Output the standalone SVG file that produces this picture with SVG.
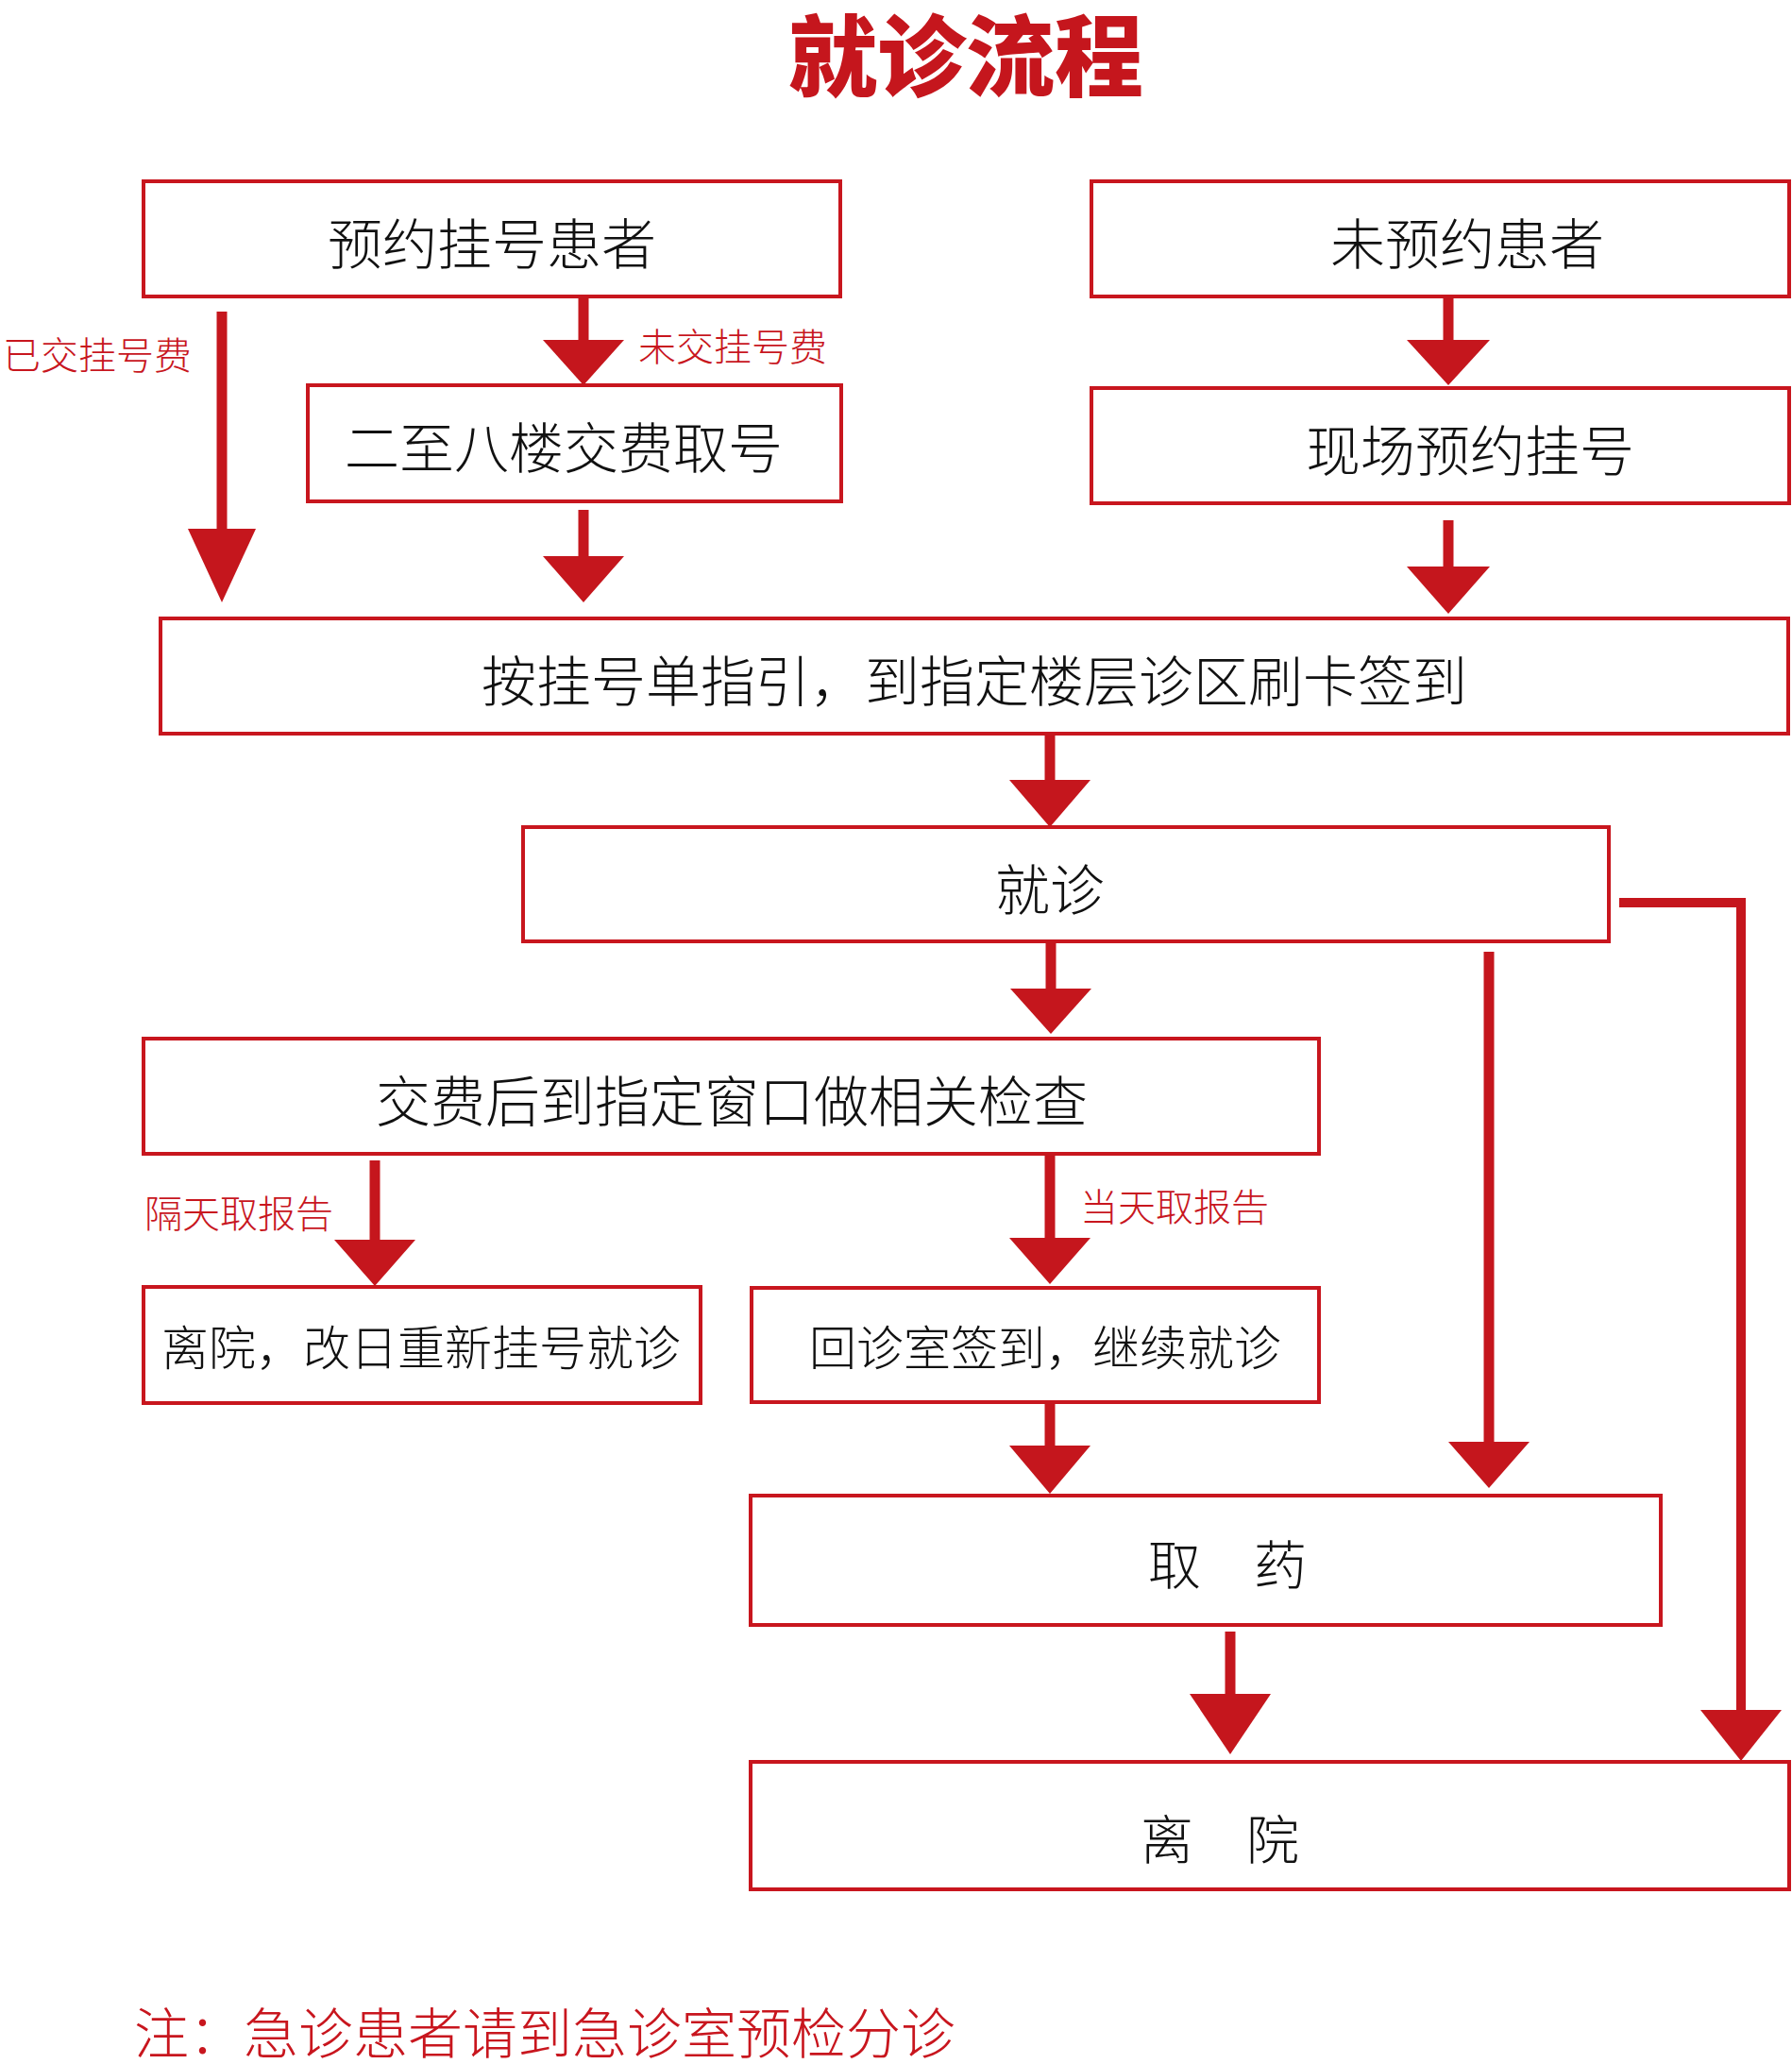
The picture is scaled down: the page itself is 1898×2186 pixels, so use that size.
<svg xmlns="http://www.w3.org/2000/svg" width="1898" height="2186" viewBox="0 0 1898 2186">
<style>
.box{fill:#fff;stroke:#c8161e;stroke-width:4}
.t{font-family:"Noto Sans CJK SC","Noto Sans",sans-serif;font-weight:300;fill:#111;text-anchor:middle;dominant-baseline:central}
.lbl{font-family:"Noto Sans CJK SC","Noto Sans",sans-serif;font-weight:300;fill:#c8161e;font-size:40px;dominant-baseline:central}
.sh{stroke:#c5161d;stroke-width:11;fill:none}
.hd{fill:#c5161d}
</style>
<rect width="1898" height="2186" fill="#fff"/>
<text x="1023" y="54" class="t" style="fill:#c5161d;font-weight:900;font-size:94px">就诊流程</text>

<g id="n1"><rect class="box" x="152" y="192" width="738" height="122"/><text class="t" x="521" y="255" font-size="58">预约挂号患者</text></g>
<g id="n2"><rect class="box" x="1156" y="192" width="739" height="122"/><text class="t" x="1554" y="255" font-size="58">未预约患者</text></g>
<g id="n3"><rect class="box" x="326" y="408" width="565" height="123"/><text class="t" x="597" y="471" font-size="58">二至八楼交费取号</text></g>
<g id="n4"><rect class="box" x="1156" y="411" width="739" height="122"/><text class="t" x="1557" y="474" font-size="58">现场预约挂号</text></g>
<g id="n5"><rect class="box" x="170" y="655" width="1724" height="122"/><text class="t" x="1032" y="718" font-size="58">按挂号单指引，到指定楼层诊区刷卡签到</text></g>
<g id="n6"><rect class="box" x="554" y="876" width="1150" height="121"/><text class="t" x="1112" y="939" font-size="58">就诊</text></g>
<g id="n7"><rect class="box" x="152" y="1100" width="1245" height="122"/><text class="t" x="775" y="1163" font-size="58">交费后到指定窗口做相关检查</text></g>
<g id="n8"><rect class="box" x="152" y="1363" width="590" height="123"/><text class="t" x="446" y="1424" font-size="50">离院，改日重新挂号就诊</text></g>
<g id="n9"><rect class="box" x="796" y="1364" width="601" height="121"/><text class="t" x="1107" y="1424" font-size="50">回诊室签到，继续就诊</text></g>
<g id="n10"><rect class="box" x="795" y="1584" width="964" height="137"/><text class="t" x="1300" y="1653" font-size="56">取　药</text></g>
<g id="n11"><rect class="box" x="795" y="1866" width="1100" height="135"/><text class="t" x="1292" y="1944" font-size="56">离　院</text></g>

<g id="connectors">
<line class="sh" x1="235" y1="330" x2="235" y2="562"/><polygon class="hd" points="199,560 271,560 235,638"/>
<line class="sh" x1="618" y1="315" x2="618" y2="362"/><polygon class="hd" points="575,360 661,360 618,408"/>
<line class="sh" x1="618" y1="540" x2="618" y2="591"/><polygon class="hd" points="575,589 661,589 618,638"/>
<line class="sh" x1="1534" y1="314" x2="1534" y2="362"/><polygon class="hd" points="1490,360 1578,360 1534,408"/>
<line class="sh" x1="1534" y1="551" x2="1534" y2="602"/><polygon class="hd" points="1490,600 1578,600 1534,650"/>
<line class="sh" x1="1112" y1="777" x2="1112" y2="828"/><polygon class="hd" points="1069,826 1155,826 1112,876"/>
<line class="sh" x1="1113" y1="997" x2="1113" y2="1049"/><polygon class="hd" points="1070,1047 1156,1047 1113,1095"/>
<line class="sh" x1="397" y1="1229" x2="397" y2="1315"/><polygon class="hd" points="354,1313 440,1313 397,1362"/>
<line class="sh" x1="1112" y1="1222" x2="1112" y2="1313"/><polygon class="hd" points="1069,1311 1155,1311 1112,1360"/>
<line class="sh" x1="1112" y1="1486" x2="1112" y2="1533"/><polygon class="hd" points="1069,1531 1155,1531 1112,1582"/>
<line class="sh" x1="1577" y1="1008" x2="1577" y2="1529"/><polygon class="hd" points="1534,1527 1620,1527 1577,1576"/>
<line class="sh" x1="1303" y1="1728" x2="1303" y2="1796"/><polygon class="hd" points="1260,1794 1346,1794 1303,1858"/>
<polyline class="sh" style="stroke-width:10" points="1715,956 1844,956 1844,1813"/><polygon class="hd" points="1801,1811 1887,1811 1844,1865"/>
</g>

<text class="lbl" x="3" y="374">已交挂号费</text>
<text class="lbl" x="676" y="365">未交挂号费</text>
<text class="lbl" x="153" y="1283">隔天取报告</text>
<text class="lbl" x="1144" y="1276">当天取报告</text>
<text x="142" y="2150" style="font-family:'Noto Sans CJK SC',sans-serif;font-weight:300;fill:#c8161e;font-size:58px;dominant-baseline:central">注：急诊患者请到急诊室预检分诊</text>
</svg>
